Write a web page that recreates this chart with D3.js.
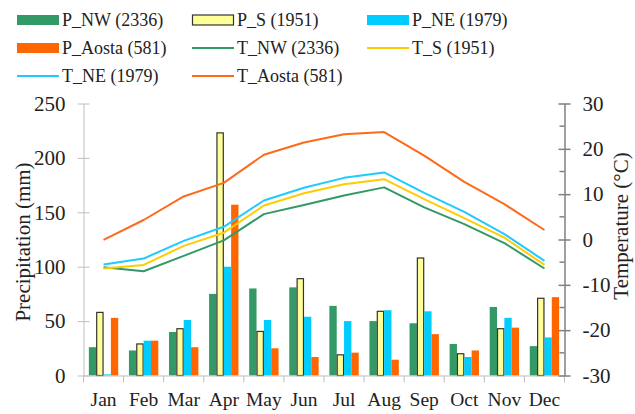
<!DOCTYPE html>
<html>
<head>
<meta charset="utf-8">
<script src="https://cdn.jsdelivr.net/npm/d3@7"></script>
<style>
  html, body { margin: 0; padding: 0; background: #fff; }
  svg { display: block; font-family: "Liberation Serif", "Times New Roman", serif; }
</style>
</head>
<body>
<svg id="chart" width="635" height="414"></svg>
<script>
// Monthly climate data: precipitation (mm) and mean temperature (°C) for four areas
const months = ["Jan", "Feb", "Mar", "Apr", "May", "Jun", "Jul", "Aug", "Sep", "Oct", "Nov", "Dec"];

const precipNW    = [26, 23, 40, 75, 80, 81, 64, 50, 48, 29, 63, 27];
const precipS     = [58, 29, 43, 223, 40.5, 89, 19, 59, 108, 20, 43, 71];
const precipNE    = [1, 32, 51, 100, 51, 54, 50, 60, 59, 17, 53, 35];
const precipAosta = [53, 32, 26, 157, 25, 17, 21, 14.5, 38, 23, 44, 72];

const tempNW    = [-6.1, -7.0, -3.6, -0.2, 5.6, 7.6, 9.7, 11.5, 7.1, 3.4, -0.8, -6.4];
const tempS     = [-6.4, -5.6, -1.4, 1.5, 7.5, 10.2, 12.2, 13.3, 8.9, 4.7, 0.4, -5.6];
const tempNE    = [-5.5, -4.2, -0.3, 2.8, 8.6, 11.4, 13.6, 14.8, 10.3, 6.1, 1.2, -4.7];
const tempAosta = [-0.1, 4.3, 9.5, 12.5, 18.7, 21.4, 23.2, 23.7, 18.5, 12.7, 7.8, 2.1];

const precipTicks = [0, 50, 100, 150, 200, 250];
const tempTicks = [-30, -20, -10, 0, 10, 20, 30];
const tempMinorTicks = [-25, -15, -5, 5, 15, 25];

const precipSeries = [
  { name: "P_NW (2336)",   values: precipNW,    fill: "#339966", stroke: "none" },
  { name: "P_S (1951)",    values: precipS,     fill: "#ffff99", stroke: "#333333" },
  { name: "P_NE (1979)",   values: precipNE,    fill: "#00ccff", stroke: "none" },
  { name: "P_Aosta (581)", values: precipAosta, fill: "#ff6600", stroke: "none" }
];
const tempSeries = [
  { name: "T_NW (2336)",   values: tempNW,    color: "#339966" },
  { name: "T_S (1951)",    values: tempS,     color: "#ffcc00" },
  { name: "T_NE (1979)",   values: tempNE,    color: "#1fcaff" },
  { name: "T_Aosta (581)", values: tempAosta, color: "#ff6a1a" }
];

const svg = d3.select("#chart");
const plot = { left: 83.5, right: 564.5, top: 103.5, bottom: 375.5 };

const x = d3.scaleBand().domain(months).range([plot.left, plot.right]).padding(0);
const xSeries = d3.scaleBand()
  .domain(precipSeries.map(d => d.name))
  .range([0, x.bandwidth()])
  .paddingInner(0).paddingOuter(0.73);
const yP = d3.scaleLinear().domain([0, 250]).range([plot.bottom, plot.top]);
const yT = d3.scaleLinear().domain([-30, 30]).range([plot.bottom, plot.top]);

// Precipitation bars
precipSeries.forEach(s => {
  svg.append("g").selectAll("rect")
    .data(s.values)
    .join("rect")
    .attr("x", (d, i) => x(months[i]) + xSeries(s.name) + (s.stroke !== "none" ? 0.5 : 0))
    .attr("y", d => yP(d))
    .attr("width", xSeries.bandwidth() - (s.stroke !== "none" ? 1 : 0))
    .attr("height", d => yP(0) - yP(d))
    .attr("fill", s.fill)
    .attr("stroke", s.stroke)
    .attr("stroke-width", s.stroke !== "none" ? 1.2 : 0);
});

// Left axis (precipitation)
const axisL = svg.append("g")
  .attr("transform", `translate(${plot.left},0)`)
  .call(d3.axisLeft(yP).tickValues(precipTicks).tickSize(0).tickPadding(18));
axisL.select(".domain").attr("stroke", "#bfbfbf");
axisL.selectAll(".tick").append("line")
  .attr("x1", -6).attr("x2", 6).attr("stroke", "#bfbfbf");
axisL.selectAll("text").attr("font-size", 21).attr("fill", "#222")
  .attr("font-family", "Liberation Serif, serif");

// Bottom axis (months)
const axisB = svg.append("g")
  .attr("transform", `translate(0,${plot.bottom})`)
  .call(d3.axisBottom(x).tickSize(0).tickPadding(17));
axisB.select(".domain").attr("stroke", "#bfbfbf");
axisB.selectAll("text").attr("font-size", 19.5).attr("fill", "#222")
  .attr("font-family", "Liberation Serif, serif");
axisB.append("g").selectAll("line")
  .data(months.concat(["end"]))
  .join("line")
  .attr("x1", (d, i) => i < 12 ? x(d) : plot.right)
  .attr("x2", (d, i) => i < 12 ? x(d) : plot.right)
  .attr("y1", 0).attr("y2", 7)
  .attr("stroke", "#bfbfbf");

// Temperature lines
const line = d3.line()
  .x((d, i) => x(months[i]) + x.bandwidth() / 2)
  .y(d => yT(d));
tempSeries.forEach(s => {
  svg.append("path")
    .datum(s.values)
    .attr("d", line)
    .attr("fill", "none")
    .attr("stroke", s.color)
    .attr("stroke-width", 2)
    .attr("stroke-linejoin", "round");
});

// Right axis (temperature)
const axisR = svg.append("g")
  .attr("transform", `translate(${plot.right},0)`)
  .call(d3.axisRight(yT).tickValues(tempTicks).tickSize(0).tickPadding(18)
    .tickFormat(d => d < 0 ? "-" + Math.abs(d) : d));
axisR.select(".domain").attr("stroke", "#808080").attr("stroke-width", 1.5);
axisR.selectAll(".tick").append("line")
  .attr("x1", -6).attr("x2", 6).attr("stroke", "#808080").attr("stroke-width", 1.5);
axisR.append("g").selectAll("line")
  .data(tempMinorTicks)
  .join("line")
  .attr("x1", -5).attr("x2", 0)
  .attr("y1", d => yT(d)).attr("y2", d => yT(d))
  .attr("stroke", "#808080").attr("stroke-width", 1.5);
axisR.selectAll("text").attr("font-size", 21).attr("fill", "#222")
  .attr("font-family", "Liberation Serif, serif");

// Axis titles
svg.append("text")
  .attr("transform", "translate(30,242) rotate(-90)")
  .attr("text-anchor", "middle")
  .attr("font-size", 21).attr("fill", "#222")
  .text("Precipitation (mm)");
svg.append("text")
  .attr("transform", "translate(628,226) rotate(-90)")
  .attr("text-anchor", "middle")
  .attr("font-size", 21).attr("fill", "#222")
  .text("Temperature (°C)");

// Legend
const legendItems = [
  { kind: "bar",  s: precipSeries[0] },
  { kind: "bar",  s: precipSeries[1] },
  { kind: "bar",  s: precipSeries[2] },
  { kind: "bar",  s: precipSeries[3] },
  { kind: "line", s: tempSeries[0] },
  { kind: "line", s: tempSeries[1] },
  { kind: "line", s: tempSeries[2] },
  { kind: "line", s: tempSeries[3] }
];
const colX = [17, 192, 367];
const rowY = [20, 48, 76];
const legend = svg.append("g");
legendItems.forEach((item, i) => {
  const cx = colX[i % 3], cy = rowY[Math.floor(i / 3)];
  const g = legend.append("g").attr("transform", `translate(${cx},${cy})`);
  if (item.kind === "bar") {
    g.append("rect")
      .attr("x", item.s.stroke !== "none" ? 0.5 : 0)
      .attr("y", -5)
      .attr("width", item.s.stroke !== "none" ? 41 : 42)
      .attr("height", 10)
      .attr("fill", item.s.fill)
      .attr("stroke", item.s.stroke)
      .attr("stroke-width", item.s.stroke !== "none" ? 1.2 : 0);
  } else {
    g.append("line")
      .attr("x1", 0).attr("x2", 42).attr("y1", 0).attr("y2", 0)
      .attr("stroke", item.s.color).attr("stroke-width", 2);
  }
  g.append("text")
    .attr("x", 45).attr("y", 0).attr("dy", "0.35em")
    .attr("font-size", 18).attr("fill", "#222")
    .text(item.s.name);
});
</script>
</body>
</html>
